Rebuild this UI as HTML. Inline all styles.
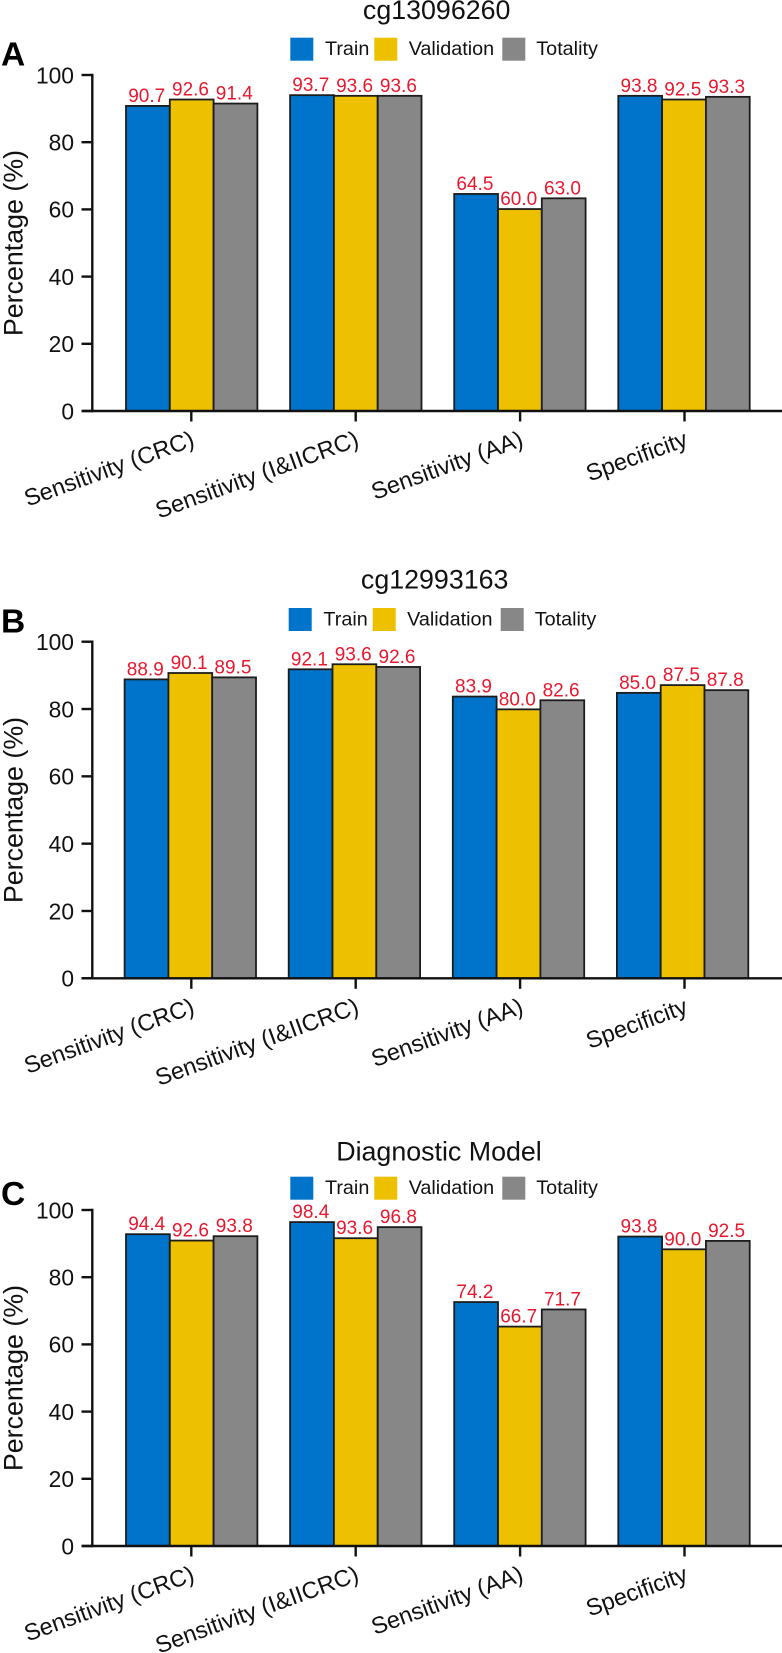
<!DOCTYPE html>
<html lang="en">
<head>
<meta charset="utf-8">
<title>Diagnostic performance bar charts</title>
<style>
html,body{margin:0;padding:0;background:#fff;}
#chart{display:block;width:782px;height:1653px;font-family:"Liberation Sans",Arial,sans-serif;}
</style>
</head>
<body>
<svg id="chart" xmlns="http://www.w3.org/2000/svg" width="782" height="1653" viewBox="0 0 782 1653"></svg>
<script>
var categories = ["Sensitivity (CRC)", "Sensitivity (I&IICRC)", "Sensitivity (AA)", "Specificity"];
var seriesNames = ["Train", "Validation", "Totality"];
var yTicks = [0, 20, 40, 60, 80, 100];

var trainA = [90.8, 94.0, 64.6, 93.8];
var validationA = [92.7, 93.8, 60.1, 92.7];
var totalityA = [91.5, 93.8, 63.3, 93.5];
var trainLabelsA = ["90.7", "93.7", "64.5", "93.8"];
var validationLabelsA = ["92.6", "93.6", "60.0", "92.5"];
var totalityLabelsA = ["91.4", "93.6", "63.0", "93.3"];

var trainB = [88.8, 91.8, 83.7, 84.8];
var validationB = [90.7, 93.3, 79.9, 87.1];
var totalityB = [89.4, 92.5, 82.6, 85.6];
var trainLabelsB = ["88.9", "92.1", "83.9", "85.0"];
var validationLabelsB = ["90.1", "93.6", "80.0", "87.5"];
var totalityLabelsB = ["89.5", "92.6", "82.6", "87.8"];

var trainC = [92.8, 96.4, 72.6, 92.1];
var validationC = [90.9, 91.6, 65.3, 88.3];
var totalityC = [92.2, 94.9, 70.4, 90.8];
var trainLabelsC = ["94.4", "98.4", "74.2", "93.8"];
var validationLabelsC = ["92.6", "93.6", "66.7", "90.0"];
var totalityLabelsC = ["93.8", "96.8", "71.7", "92.5"];

var svgNS = "http://www.w3.org/2000/svg";
var root = document.getElementById("chart");
var seriesColors = ["#0073ca", "#edc000", "#878787"];

function addShape(parent, tag, attrs) {
  var el = document.createElementNS(svgNS, tag);
  for (var key in attrs) {
    el.setAttribute(key, attrs[key]);
  }
  parent.appendChild(el);
  return el;
}

function addText(parent, content, attrs) {
  var el = addShape(parent, "text", attrs);
  el.textContent = content;
  return el;
}

function drawPanel(opts) {
  var yScale = function (v) {
    return opts.y0 + (opts.y100 - opts.y0) * v / 100;
  };
  var groupLeft = function (i) {
    return opts.barLeft + 164.1 * i;
  };
  var barWidth = 43.8;
  var tickX = function (i) {
    return 191.3 + 164.4 * i;
  };

  var panel = addShape(root, "g", {});
  
  

  var letter = addText(panel, opts.letter, {x: 1, y: opts.letterY, "font-size": 33.5, "font-weight": "bold", fill: "#000"});
  
  

  var title = addText(panel, opts.title, {x: opts.titleX, y: opts.titleY, "font-size": 26.8, "text-anchor": "middle", fill: "#111"});
  
  

  var legendSwatchX = [290.3, 374.3, 502.3];
  var legendTextX = [325, 408.7, 536.3];
  seriesNames.forEach(function (name, s) {
    var swatch = addShape(panel, "rect", {x: legendSwatchX[s] + opts.legendDx, y: opts.legendTop, width: 23, height: 23, fill: seriesColors[s]});
    
    
    var label = addText(panel, name, {x: legendTextX[s] + opts.legendDx, y: opts.legendTop + 17.5, "font-size": 19.8, fill: "#111"});
    
    
  });

  opts.series.forEach(function (values, s) {
    values.forEach(function (v, i) {
      var x = groupLeft(i) + barWidth * s;
      var top = yScale(v);
      var bar = addShape(panel, "rect", {x: x, y: top, width: barWidth, height: opts.y0 - top, fill: seriesColors[s], stroke: "#1c1c1c", "stroke-width": 1.8});
      
      
    });
  });

  opts.series.forEach(function (values, s) {
    values.forEach(function (v, i) {
      var x = groupLeft(i) + barWidth * s + barWidth / 2 - 1.2;
      var value = addText(panel, opts.labels[s][i], {x: x, y: yScale(v) - 4, "font-size": 19, "text-anchor": "middle", fill: "#e8182e"});
      
      
    });
  });

  var yAxis = addShape(panel, "line", {x1: 92.3, x2: 92.3, y1: opts.y100 - 1.2, y2: opts.y0 + 1.2, stroke: "#111", "stroke-width": 2.4});
  
  

  var xAxis = addShape(panel, "line", {x1: 81.5, x2: 782, y1: opts.y0, y2: opts.y0, stroke: "#111", "stroke-width": 2.4});
  
  

  yTicks.forEach(function (t) {
    var y = yScale(t);
    var tick = addShape(panel, "line", {x1: 81.5, x2: 92.3, y1: y, y2: y, stroke: "#111", "stroke-width": 2.4});
    
    
    var tickLabel = addText(panel, String(t), {x: 74, y: y + 8.3, "font-size": 22.8, "text-anchor": "end", fill: "#111"});
    
    
  });

  categories.forEach(function (c, i) {
    var x = tickX(i);
    var tick = addShape(panel, "line", {x1: x, x2: x, y1: opts.y0, y2: opts.y0 + 10.5, stroke: "#111", "stroke-width": 2.4});
    
    
    var ax = x + 4.5;
    var ay = opts.y0 + 34.5;
    var tickLabel = addText(panel, c, {x: ax, y: ay, "font-size": 23.5, "text-anchor": "end", fill: "#111", transform: "rotate(-20 " + ax + " " + ay + ")"});
    
    
  });

  var cy = (opts.y0 + opts.y100) / 2;
  var yTitle = addText(panel, "Percentage (%)", {x: 22.5, y: cy, "font-size": 26.8, "text-anchor": "middle", fill: "#111", transform: "rotate(-90 22.5 " + cy + ")"});
  
  
}

drawPanel({
  id: "a", letter: "A", title: "cg13096260",
  letterY: 65.7, titleX: 436.7, titleY: 19,
  legendTop: 37.7, legendDx: 0,
  y100: 75, y0: 411, barLeft: 126,
  series: [trainA, validationA, totalityA],
  labels: [trainLabelsA, validationLabelsA, totalityLabelsA]
});
drawPanel({
  id: "b", letter: "B", title: "cg12993163",
  letterY: 632.7, titleX: 434.7, titleY: 588.5,
  legendTop: 608, legendDx: -1.6,
  y100: 641.7, y0: 978.3, barLeft: 124.6,
  series: [trainB, validationB, totalityB],
  labels: [trainLabelsB, validationLabelsB, totalityLabelsB]
});
drawPanel({
  id: "c", letter: "C", title: "Diagnostic Model",
  letterY: 1205, titleX: 439, titleY: 1160.7,
  legendTop: 1176.7, legendDx: 0,
  y100: 1210, y0: 1546, barLeft: 126,
  series: [trainC, validationC, totalityC],
  labels: [trainLabelsC, validationLabelsC, totalityLabelsC]
});
</script>
</body>
</html>
